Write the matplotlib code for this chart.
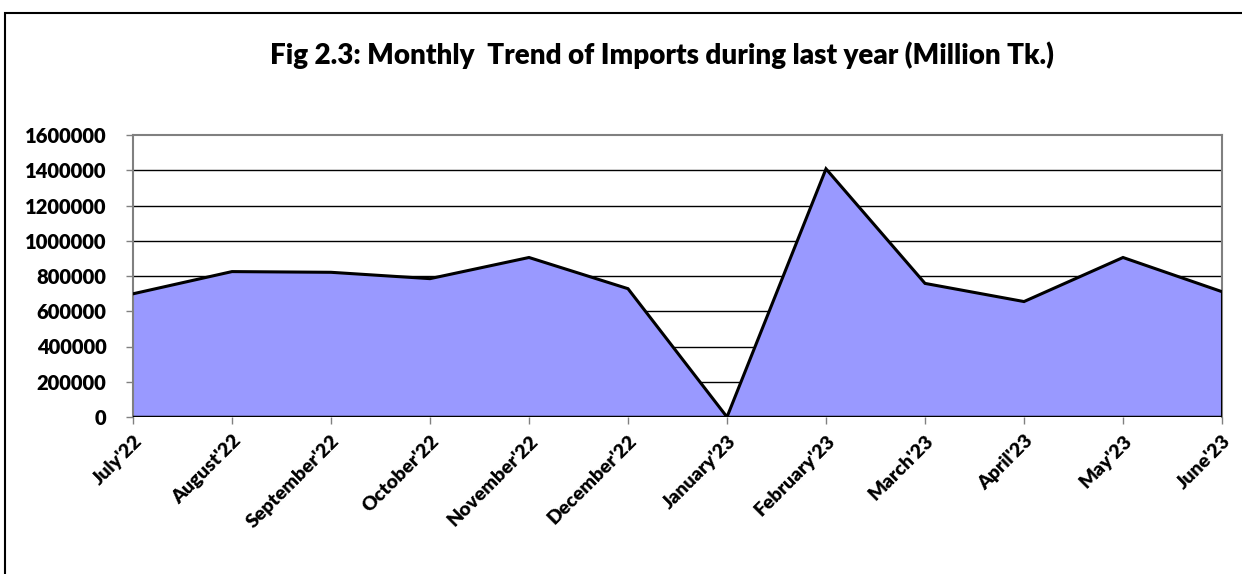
import numpy as np
import matplotlib.pyplot as plt
from matplotlib.patches import Rectangle

months = ["July'22", "August'22", "September'22", "October'22", "November'22", "December'22",
          "January'23", "February'23", "March'23", "April'23", "May'23", "June'23"]
imports = [699000, 825000, 821000, 785000, 905000, 728000,
           0, 1408000, 758000, 655000, 905000, 711000]
yticks = [0, 200000, 400000, 600000, 800000, 1000000, 1200000, 1400000, 1600000]

plt.rcParams['font.family'] = ['Lato', 'DejaVu Sans']

fig = plt.figure(figsize=(12.42, 5.74), dpi=100)
ax = fig.add_axes([133/1242, 1-417/574, (1222-133)/1242, (417-135)/574])

x = np.arange(len(months))
ax.fill_between(x, imports, 0, facecolor="#9999ff", edgecolor="none", zorder=2)
ax.plot(x, imports, color="black", lw=2.2, zorder=3, solid_joinstyle="miter")
ax.plot([x[-1], x[-1]], [0, imports[-1]], color="black", lw=2.2, zorder=3)
ax.axhline(0, color="black", lw=2.5, zorder=4)

for v in yticks[1:-1]:
    ax.axhline(v, color="black", lw=1, zorder=1)

ax.set_xlim(0, len(months) - 1)
ax.set_ylim(0, 1600000)
ax.set_yticks(yticks)
ax.set_yticklabels([str(v) for v in yticks], fontsize=14.5, fontweight="heavy")
ax.set_xticks(x)
ax.set_xticklabels(months, rotation=45, ha="right", rotation_mode="anchor",
                   fontsize=14, fontweight="heavy")
ax.tick_params(axis="y", length=5, width=1, color="#808080", pad=14)
ax.tick_params(axis="x", length=5, width=1, color="#808080", pad=6)

for s in ["left", "top", "right"]:
    ax.spines[s].set_color("#808080")
    ax.spines[s].set_linewidth(1.5)
ax.spines["bottom"].set_visible(False)

fig.text(662/1242, 1-55/574, "Fig 2.3: Monthly  Trend of Imports during last year (Million Tk.)",
         ha="center", va="center", fontsize=20, fontweight="heavy")

fig.patches.append(Rectangle((4.5/1242, -0.05), 1.1, 1-12.5/574+0.05, transform=fig.transFigure,
                             fill=False, edgecolor="black", lw=1.5))

fig.savefig("out.png", dpi=100)
